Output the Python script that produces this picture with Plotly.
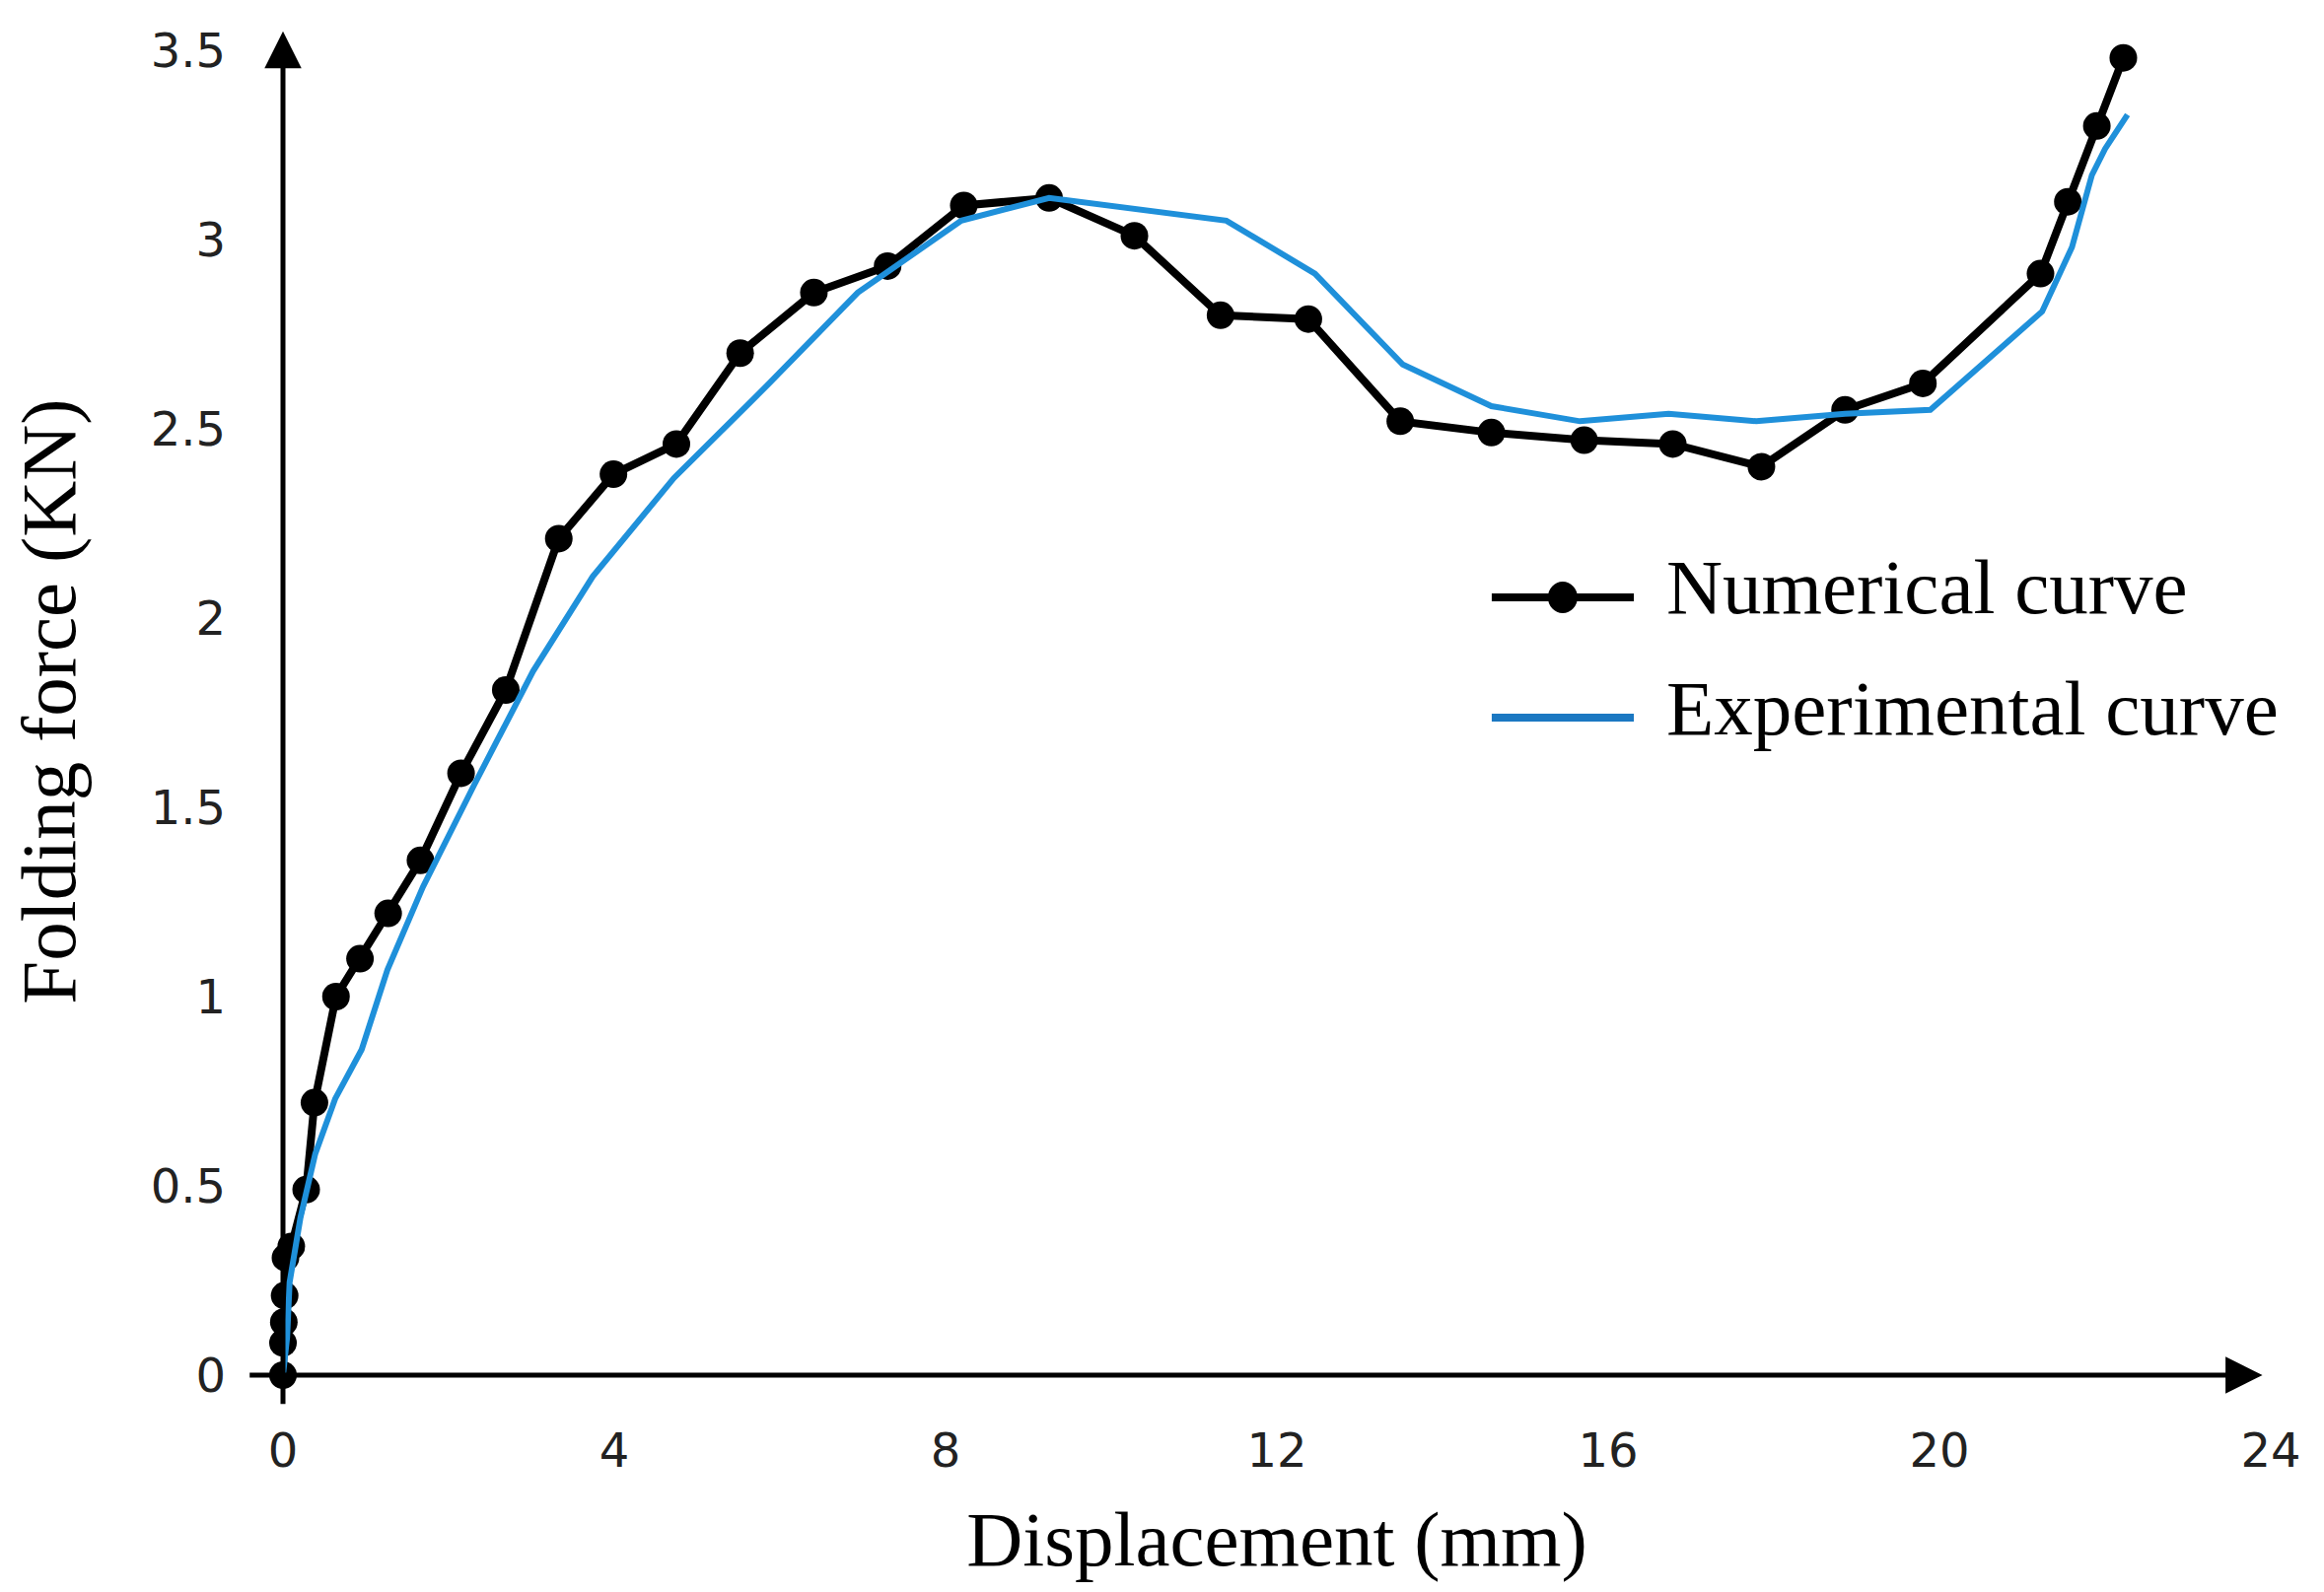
import plotly.graph_objects as go

# Numerical curve (markers + line)
num_x = [0, 0, 0.01, 0.02, 0.03, 0.1, 0.28, 0.38, 0.64, 0.93, 1.27, 1.66, 2.15, 2.69,
         3.33, 3.99, 4.75, 5.52, 6.41, 7.3, 8.22, 9.25, 10.28, 11.32, 12.38, 13.49,
         14.59, 15.71, 16.78, 17.85, 18.86, 19.8, 21.22, 21.55, 21.9, 22.22]
num_y = [0, 0.085, 0.14, 0.21, 0.31, 0.34, 0.49, 0.72, 1.0, 1.1, 1.22, 1.36, 1.59, 1.81,
         2.21, 2.38, 2.46, 2.7, 2.86, 2.93, 3.09, 3.11, 3.01, 2.8, 2.79, 2.52,
         2.49, 2.47, 2.46, 2.4, 2.55, 2.62, 2.91, 3.1, 3.3, 3.48]

# Experimental curve (line only)
exp_x = [0, 0.05, 0.08, 0.21, 0.39, 0.63, 0.95, 1.26, 1.69, 2.31, 3.02, 3.74, 4.72,
         5.87, 6.94, 8.19, 9.25, 10.3, 11.39, 12.46, 13.52, 14.59, 15.66, 16.73,
         17.79, 18.86, 19.89, 21.24, 21.6, 21.84, 22.0, 22.27]
exp_y = [0, 0.1, 0.245, 0.415, 0.585, 0.73, 0.86, 1.07, 1.29, 1.56, 1.86, 2.11, 2.37,
         2.62, 2.86, 3.05, 3.11, 3.08, 3.05, 2.91, 2.67, 2.56, 2.52, 2.54,
         2.52, 2.54, 2.55, 2.81, 2.98, 3.17, 3.24, 3.33]

x_ticks = [0, 4, 8, 12, 16, 20, 24]
y_ticks = [0, 0.5, 1, 1.5, 2, 2.5, 3, 3.5]

x_title = "Displacement (mm)"
y_title = "Folding force (KN)"
num_name = "Numerical curve"
exp_name = "Experimental curve"

BLUE = "#1f90da"
BLUE_LEG = "#1b78c2"
SERIF = "Liberation Serif, Times New Roman, serif"
TICKFONT = "DejaVu Sans, Verdana, sans-serif"

fig = go.Figure()
fig.add_trace(go.Scatter(
    x=num_x, y=num_y, name=num_name, mode="lines+markers",
    line=dict(color="black", width=8),
    marker=dict(color="black", size=28, symbol="circle"),
    cliponaxis=False, showlegend=False,
))
fig.add_trace(go.Scatter(
    x=exp_x, y=exp_y, name=exp_name, mode="lines",
    line=dict(color=BLUE, width=6),
    cliponaxis=False, showlegend=False,
))

# axis arrows (with small stubs past the origin)
fig.add_annotation(x=0, y=3.55, ax=0, ay=-0.08, xref="x", yref="y", axref="x", ayref="y",
                   text="", showarrow=True, arrowhead=2, arrowsize=1.5, arrowwidth=5,
                   arrowcolor="black")
fig.add_annotation(x=23.9, y=0, ax=-0.42, ay=0, xref="x", yref="y", axref="x", ayref="y",
                   text="", showarrow=True, arrowhead=2, arrowsize=1.5, arrowwidth=5,
                   arrowcolor="black")

# legend (drawn in paper coordinates)
leg_x0, leg_x1, leg_xm, leg_tx = 0.6081, 0.6796, 0.6438, 0.6949
leg_rows = [0.5772, 0.4879]
fig.add_shape(type="line", xref="paper", yref="paper", x0=leg_x0, x1=leg_x1,
              y0=leg_rows[0], y1=leg_rows[0], line=dict(color="black", width=8))
fig.add_shape(type="circle", xref="paper", yref="paper", xsizemode="pixel", ysizemode="pixel",
              xanchor=leg_xm, yanchor=leg_rows[0], x0=-15, x1=15, y0=-16, y1=16,
              fillcolor="black", line=dict(color="black", width=0))
fig.add_shape(type="line", xref="paper", yref="paper", x0=leg_x0, x1=leg_x1,
              y0=leg_rows[1], y1=leg_rows[1], line=dict(color=BLUE_LEG, width=8))
for name, yy in zip([num_name, exp_name], leg_rows):
    fig.add_annotation(x=leg_tx, y=yy, xref="paper", yref="paper", text=name,
                       showarrow=False, xanchor="left", yanchor="middle", yshift=10,
                       font=dict(family=SERIF, size=79, color="black"))

fig.update_layout(
    width=2357, height=1615,
    margin=dict(l=287, r=54, t=28, b=220),
    paper_bgcolor="white", plot_bgcolor="white",
    showlegend=False,
    xaxis=dict(
        range=[0, 24], tickvals=x_ticks, ticktext=[str(v) for v in x_ticks],
        showgrid=False, zeroline=False, showline=False, ticks="",
        tickfont=dict(family=TICKFONT, size=48, color="#222"),
        ticklabelstandoff=44,
        title=dict(text=x_title, font=dict(family=SERIF, size=79, color="black"), standoff=34),
        automargin=False,
    ),
    yaxis=dict(
        range=[0, 3.56], tickvals=y_ticks, ticktext=[("%g" % v) for v in y_ticks],
        showgrid=False, zeroline=False, showline=False, ticks="",
        tickfont=dict(family=TICKFONT, size=48, color="#222"),
        ticklabelstandoff=57,
        title=dict(text=y_title, font=dict(family=SERIF, size=79, color="black"), standoff=50),
        automargin=False,
    ),
)

fig.write_html("out.html", config={"displayModeBar": False},
               post_script="document.body.style.margin='0';")
